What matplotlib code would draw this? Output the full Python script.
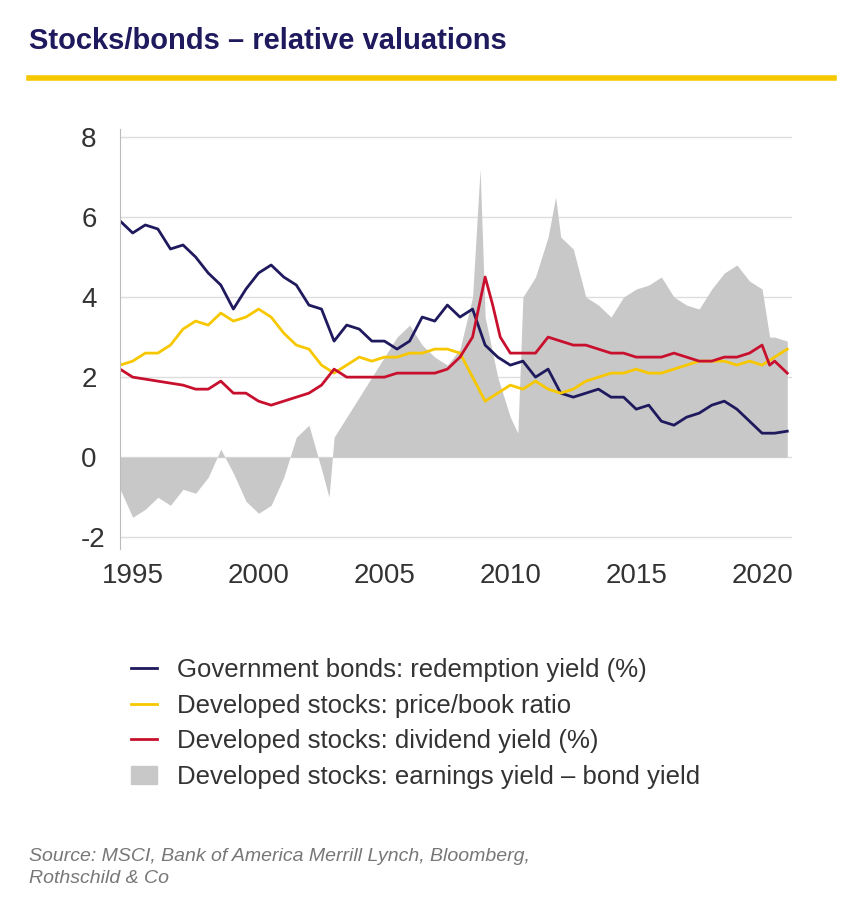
import matplotlib
matplotlib.use("Agg")
import matplotlib.pyplot as plt
from matplotlib.patches import Patch
from matplotlib.lines import Line2D

plt.rcParams['axes.unicode_minus'] = False
plt.rcParams['font.family'] = ['Liberation Sans', 'DejaVu Sans']

bond_x = [1994.5,1995,1995.5,1996,1996.5,1997,1997.5,1998,1998.5,1999,1999.5,2000,2000.5,2001,2001.5,2002,2002.5,2003,2003.5,2004,2004.5,2005,2005.5,2006,2006.5,2007,2007.5,2008,2008.5,2009,2009.5,2010,2010.5,2011,2011.5,2012,2012.5,2013,2013.5,2014,2014.5,2015,2015.5,2016,2016.5,2017,2017.5,2018,2018.5,2019,2019.5,2020,2020.5,2021]
bond_y = [5.9,5.6,5.8,5.7,5.2,5.3,5.0,4.6,4.3,3.7,4.2,4.6,4.8,4.5,4.3,3.8,3.7,2.9,3.3,3.2,2.9,2.9,2.7,2.9,3.5,3.4,3.8,3.5,3.7,2.8,2.5,2.3,2.4,2.0,2.2,1.6,1.5,1.6,1.7,1.5,1.5,1.2,1.3,0.9,0.8,1.0,1.1,1.3,1.4,1.2,0.9,0.6,0.6,0.65]

pb_x = bond_x
pb_y = [2.3,2.4,2.6,2.6,2.8,3.2,3.4,3.3,3.6,3.4,3.5,3.7,3.5,3.1,2.8,2.7,2.3,2.1,2.3,2.5,2.4,2.5,2.5,2.6,2.6,2.7,2.7,2.6,2.0,1.4,1.6,1.8,1.7,1.9,1.7,1.6,1.7,1.9,2.0,2.1,2.1,2.2,2.1,2.1,2.2,2.3,2.4,2.4,2.4,2.3,2.4,2.3,2.5,2.7]

div_x = [1994.5,1995,1996,1997,1997.5,1998,1998.5,1999,1999.5,2000,2000.5,2001,2001.5,2002,2002.5,2003,2003.5,2004,2004.5,2005,2005.5,2006,2006.5,2007,2007.5,2008,2008.5,2009,2009.3,2009.6,2010,2010.5,2011,2011.5,2012,2012.5,2013,2013.5,2014,2014.5,2015,2015.5,2016,2016.5,2017,2017.5,2018,2018.5,2019,2019.5,2020,2020.3,2020.5,2021]
div_y = [2.2,2.0,1.9,1.8,1.7,1.7,1.9,1.6,1.6,1.4,1.3,1.4,1.5,1.6,1.8,2.2,2.0,2.0,2.0,2.0,2.1,2.1,2.1,2.1,2.2,2.5,3.0,4.5,3.8,3.0,2.6,2.6,2.6,3.0,2.9,2.8,2.8,2.7,2.6,2.6,2.5,2.5,2.5,2.6,2.5,2.4,2.4,2.5,2.5,2.6,2.8,2.3,2.4,2.1]

gap_x = [1994.5,1995,1995.5,1996,1996.5,1997,1997.5,1998,1998.5,1999,1999.5,2000,2000.5,2001,2001.5,2002,2002.5,2002.8,2003,2003.5,2004,2004.5,2005,2005.5,2006,2006.5,2007,2007.5,2008,2008.5,2008.8,2009,2009.5,2010,2010.3,2010.5,2011,2011.5,2011.8,2012,2012.5,2013,2013.5,2014,2014.5,2015,2015.5,2016,2016.5,2017,2017.5,2018,2018.5,2019,2019.5,2020,2020.3,2020.5,2021]
gap_y = [-0.8,-1.5,-1.3,-1.0,-1.2,-0.8,-0.9,-0.5,0.2,-0.4,-1.1,-1.4,-1.2,-0.5,0.5,0.8,-0.3,-1.0,0.5,1.0,1.5,2.0,2.5,3.0,3.3,2.8,2.5,2.3,2.7,4.0,7.2,3.5,2.0,1.0,0.6,4.0,4.5,5.5,6.5,5.5,5.2,4.0,3.8,3.5,4.0,4.2,4.3,4.5,4.0,3.8,3.7,4.2,4.6,4.8,4.4,4.2,3.0,3.0,2.9]

labels = ["Government bonds: redemption yield (%)","Developed stocks: price/book ratio",
          "Developed stocks: dividend yield (%)","Developed stocks: earnings yield \u2013 bond yield"]
navy, yellow, red, grey = "#1f1a5e", "#f7c700", "#c8102e", "#c8c8c8"

fig = plt.figure(figsize=(8.64, 9.14), dpi=100)
fig.text(0.033, 0.955, "Stocks/bonds \u2013 relative valuations", fontsize=21, fontweight="bold", color=navy, va="center")
fig.add_artist(Line2D([0.033, 0.965], [0.915, 0.915], color=yellow, lw=4))

ax = fig.add_axes([0.139, 0.399, 0.778, 0.46])
ax.fill_between(gap_x, gap_y, 0, color=grey, lw=0)
ax.plot(bond_x, bond_y, color=navy, lw=2)
ax.plot(pb_x, pb_y, color=yellow, lw=2)
ax.plot(div_x, div_y, color=red, lw=2)
ax.set_xlim(1994.5, 2021.2)
ax.set_ylim(-2.3, 8.2)
ax.set_yticks([-2, 0, 2, 4, 6, 8])
ax.set_xticks([1995, 2000, 2005, 2010, 2015, 2020])
ax.grid(axis="y", color="#dddddd", lw=1)
ax.set_axisbelow(True)
for s in ["top", "right", "bottom"]:
    ax.spines[s].set_visible(False)
ax.spines["left"].set_color("#bbbbbb")
ax.tick_params(length=0, labelsize=20, colors="#333333", pad=10)
ax.tick_params(axis="y", pad=28)
for t in ax.get_yticklabels():
    t.set_horizontalalignment("left")

handles = [Line2D([], [], color=navy, lw=2), Line2D([], [], color=yellow, lw=2),
           Line2D([], [], color=red, lw=2), Patch(color=grey)]
fig.legend(handles, labels, loc="upper left", bbox_to_anchor=(0.125, 0.305), frameon=False,
           fontsize=18.5, handlelength=1.0, labelspacing=0.45, labelcolor="#333333")
fig.text(0.033, 0.072, "Source: MSCI, Bank of America Merrill Lynch, Bloomberg,\nRothschild & Co",
         fontsize=14, style="italic", color="#777777", va="top", linespacing=1.4)
fig.savefig("out.png", dpi=100, facecolor="white")
